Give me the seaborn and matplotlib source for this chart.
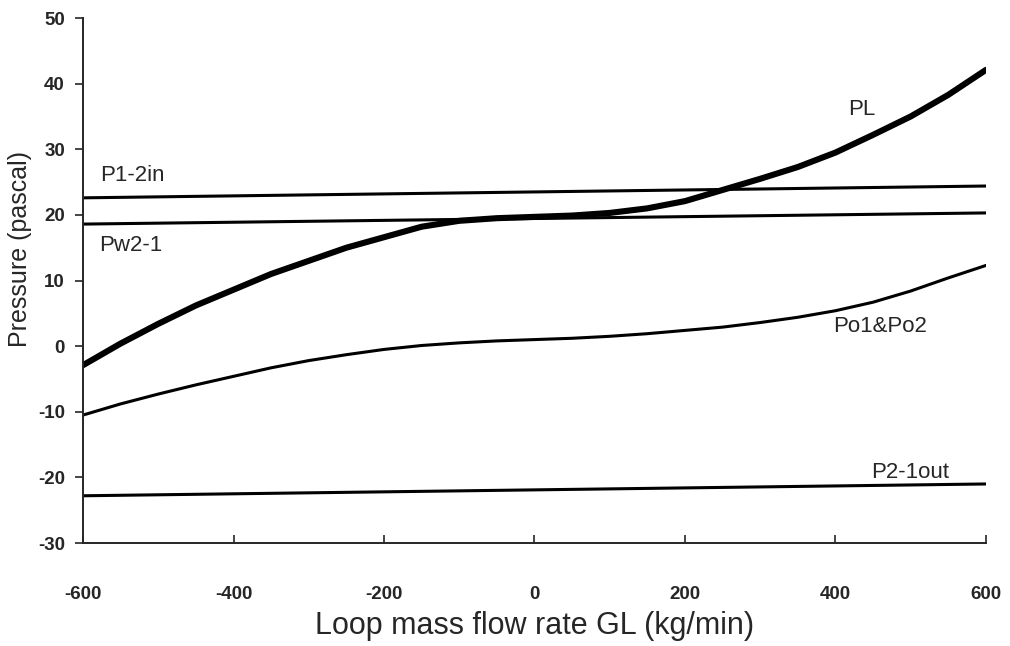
import pandas as pd
import matplotlib
matplotlib.use("Agg")
import matplotlib.pyplot as plt
import seaborn as sns

sns.set_style("ticks")
plt.rcParams['font.family'] = ['Liberation Sans', 'DejaVu Sans']
plt.rcParams['axes.unicode_minus'] = False

# values
GL = [-600, -550, -500, -450, -400, -350, -300, -250, -200, -150, -100, -50, 0,
      50, 100, 150, 200, 250, 300, 350, 400, 450, 500, 550, 600]
PL = [-2.9, 0.4, 3.4, 6.2, 8.6, 11.0, 13.0, 15.0, 16.6, 18.2, 19.1, 19.5, 19.7,
      19.9, 20.3, 21.0, 22.1, 23.8, 25.5, 27.3, 29.5, 32.2, 35.0, 38.3, 42.1]
PO = [-10.5, -8.8, -7.3, -5.9, -4.6, -3.3, -2.2, -1.3, -0.5, 0.1, 0.5, 0.8, 1.0,
      1.2, 1.5, 1.9, 2.4, 2.9, 3.6, 4.4, 5.4, 6.7, 8.4, 10.4, 12.3]

GL_FLAT = [-600, 600]
P12IN = [22.6, 24.4]
PW21 = [18.6, 20.3]
P21OUT = [-22.8, -21.0]

labels = ["PL", "Po1&Po2", "P1-2in", "Pw2-1", "P2-1out"]
label_pos = [(435, 36.0), (459, 3.0), (-535, 26.0), (-537, 15.4), (499, -19.3)]

curves = pd.DataFrame({"GL": GL, "PL": PL, "Po1&Po2": PO})
flats = pd.DataFrame({"GL": GL_FLAT, "P1-2in": P12IN, "Pw2-1": PW21, "P2-1out": P21OUT})

fig = plt.figure(figsize=(10.1, 6.46), dpi=100)
ax = fig.add_axes([0.0822, 0.1594, 0.894, 0.8127])

sns.lineplot(data=curves, x="GL", y="PL", ax=ax, color="black", linewidth=4.4)
sns.lineplot(data=curves, x="GL", y="Po1&Po2", ax=ax, color="black", linewidth=2.2)
for name in ["P1-2in", "Pw2-1", "P2-1out"]:
    sns.lineplot(data=flats, x="GL", y=name, ax=ax, color="black", linewidth=2.2)

for name, (x, y) in zip(labels, label_pos):
    ax.text(x, y, name, fontsize=16, ha="center", va="center")

ax.set_xlim(-600, 600)
ax.set_ylim(-30, 50)
ax.set_xticks(range(-600, 601, 200))
ax.set_yticks(range(-30, 51, 10))
ax.tick_params(axis="x", direction="in", length=6, width=1.2, pad=31, labelsize=13.5)
ax.tick_params(axis="y", direction="out", length=6, width=1.2, pad=7, labelsize=13.5)
for lab in ax.get_xticklabels() + ax.get_yticklabels():
    lab.set_fontweight("bold")
for sp in ["left", "bottom"]:
    ax.spines[sp].set_linewidth(1.4)
ax.set_xlabel("Loop mass flow rate GL (kg/min)", fontsize=22, labelpad=6)
ax.set_ylabel("Pressure (pascal)", fontsize=18)
ax.yaxis.set_label_coords(-0.056, 0.56)
sns.despine(ax=ax)

fig.savefig("out.png", dpi=100)
